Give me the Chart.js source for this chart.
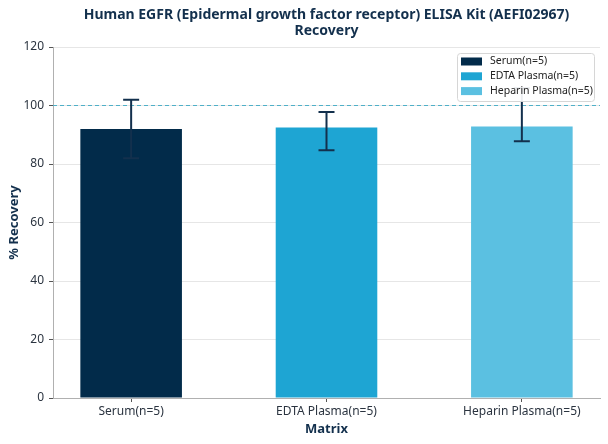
<!DOCTYPE html>
<html>
<head>
    <title>EGFR ELISA Recovery</title>
    <style>
        body {
            margin: 0;
            background-color: #fff;
        }
        #wrap {
            position: relative;
            width: 608px;
            height: 444px;
        }
    </style>
    <script src="https://cdn.jsdelivr.net/npm/chart.js"></script>
</head>
<body>
    <div id="wrap"><canvas id="chart" width="608" height="444"></canvas></div>
    <script>
        // values
        var categories = ['Serum(n=5)', 'EDTA Plasma(n=5)', 'Heparin Plasma(n=5)'];
        var recovery = [92, 92.5, 92.8];
        var errLow = [82, 84.7, 87.8];
        var errHigh = [102, 97.8, 106];
        var yTicks = [0, 20, 40, 60, 80, 100, 120];
        var barColors = ['#022b4a', '#1ea5d3', '#5bc0e1'];
        var titleLines = ['Human EGFR (Epidermal growth factor receptor) ELISA Kit (AEFI02967)', 'Recovery'];
        var navy = '#13304d';

        var points = categories.map(function(c, i) {
            return { x: i, y: recovery[i] };
        });

        // title centred over the plot area
        var titlePlugin = {
            id: 'figTitle',
            afterDraw: function(chart) {
                var ctx = chart.ctx;
                var cx = (chart.chartArea.left + chart.chartArea.right) / 2;
                ctx.save();
                ctx.fillStyle = navy;
                ctx.font = 'bold 14px "Noto Sans"';
                ctx.textAlign = 'center';
                ctx.textBaseline = 'alphabetic';
                ctx.fillText(titleLines[0], cx, 19);
                ctx.fillText(titleLines[1], cx, 35);
                ctx.restore();
            }
        };

        // dashed 100% reference line
        var refLine = {
            id: 'refLine',
            beforeDatasetsDraw: function(chart) {
                var ctx = chart.ctx;
                var area = chart.chartArea;
                var y = Math.round(chart.scales.y.getPixelForValue(100)) + 0.5;
                ctx.save();
                ctx.strokeStyle = '#4fb0c8';
                ctx.lineWidth = 1;
                ctx.setLineDash([4, 3]);
                ctx.beginPath();
                ctx.moveTo(area.left, y);
                ctx.lineTo(area.right, y);
                ctx.stroke();
                ctx.restore();
            }
        };

        // error bars with caps
        var errorBars = {
            id: 'errorBars',
            afterDatasetsDraw: function(chart) {
                var ctx = chart.ctx;
                var yScale = chart.scales.y;
                var bars = chart.getDatasetMeta(0).data;
                ctx.save();
                ctx.strokeStyle = navy;
                ctx.lineWidth = 2;
                bars.forEach(function(bar, i) {
                    var top = yScale.getPixelForValue(errHigh[i]);
                    var bottom = yScale.getPixelForValue(errLow[i]);
                    ctx.beginPath();
                    ctx.moveTo(bar.x, top);
                    ctx.lineTo(bar.x, bottom);
                    ctx.moveTo(bar.x - 8, top);
                    ctx.lineTo(bar.x + 8, top);
                    ctx.moveTo(bar.x - 8, bottom);
                    ctx.lineTo(bar.x + 8, bottom);
                    ctx.stroke();
                });
                ctx.restore();
            }
        };

        // legend box inside the plot, top right
        var boxLegend = {
            id: 'boxLegend',
            afterDatasetsDraw: function(chart) {
                var ctx = chart.ctx;
                var x = 457, y = 53, w = 137, h = 48, r = 3;
                ctx.save();
                ctx.fillStyle = 'rgba(255,255,255,0.92)';
                ctx.strokeStyle = '#d6d6d6';
                ctx.lineWidth = 1;
                ctx.beginPath();
                ctx.roundRect(x + 0.5, y + 0.5, w, h, r);
                ctx.fill();
                ctx.stroke();
                ctx.font = '10.5px "Noto Sans"';
                ctx.textBaseline = 'middle';
                categories.forEach(function(c, i) {
                    var cy = 61.5 + i * 14.8;
                    ctx.fillStyle = barColors[i];
                    ctx.fillRect(461, cy - 4, 21, 8);
                    ctx.fillStyle = '#222';
                    ctx.fillText(c, 490, cy);
                });
                ctx.restore();
            }
        };

        new Chart(document.getElementById('chart'), {
            type: 'bar',
            data: {
                datasets: [{
                    label: 'Recovery',
                    data: points,
                    backgroundColor: barColors,
                    borderWidth: 0,
                    barPercentage: 0.52,
                    categoryPercentage: 1
                }]
            },
            options: {
                responsive: false,
                animation: false,
                layout: {
                    padding: { top: 47, right: 8, left: 0, bottom: 0 }
                },
                plugins: {
                    legend: { display: false },
                    tooltip: { enabled: false }
                },
                scales: {
                    x: {
                        type: 'linear',
                        min: -0.4,
                        max: 2.4,
                        offset: false,
                        afterBuildTicks: function(scale) {
                            scale.ticks = categories.map(function(c, i) { return { value: i }; });
                        },
                        afterFit: function(scale) { scale.height = 46; },
                        ticks: {
                            callback: function(v) { return categories[v]; },
                            color: '#2b3440',
                            font: { family: 'Noto Sans', size: 12 },
                            padding: 2,
                            maxRotation: 0
                        },
                        grid: {
                            offset: false,
                            drawOnChartArea: false,
                            tickLength: 4,
                            tickColor: '#555'
                        },
                        border: { color: '#b0b0b0' },
                        title: {
                            display: true,
                            text: 'Matrix',
                            color: navy,
                            font: { family: 'Noto Sans', size: 13, weight: 'bold' },
                            padding: { top: 0, bottom: 7 }
                        }
                    },
                    y: {
                        min: 0,
                        max: 120,
                        afterBuildTicks: function(scale) {
                            scale.ticks = yTicks.map(function(v) { return { value: v }; });
                        },
                        afterFit: function(scale) { scale.width = 53; },
                        ticks: {
                            color: '#2b3440',
                            font: { family: 'Noto Sans', size: 12 },
                            padding: 5
                        },
                        grid: {
                            color: '#e6e6e6',
                            tickLength: 4,
                            tickColor: '#555'
                        },
                        border: { color: '#b0b0b0' },
                        title: {
                            display: true,
                            text: '% Recovery',
                            color: navy,
                            font: { family: 'Noto Sans', size: 13, weight: 'bold' },
                            padding: { top: 6, bottom: 0 }
                        }
                    }
                }
            },
            plugins: [titlePlugin, refLine, errorBars, boxLegend]
        });
    </script>
</body>
</html>
